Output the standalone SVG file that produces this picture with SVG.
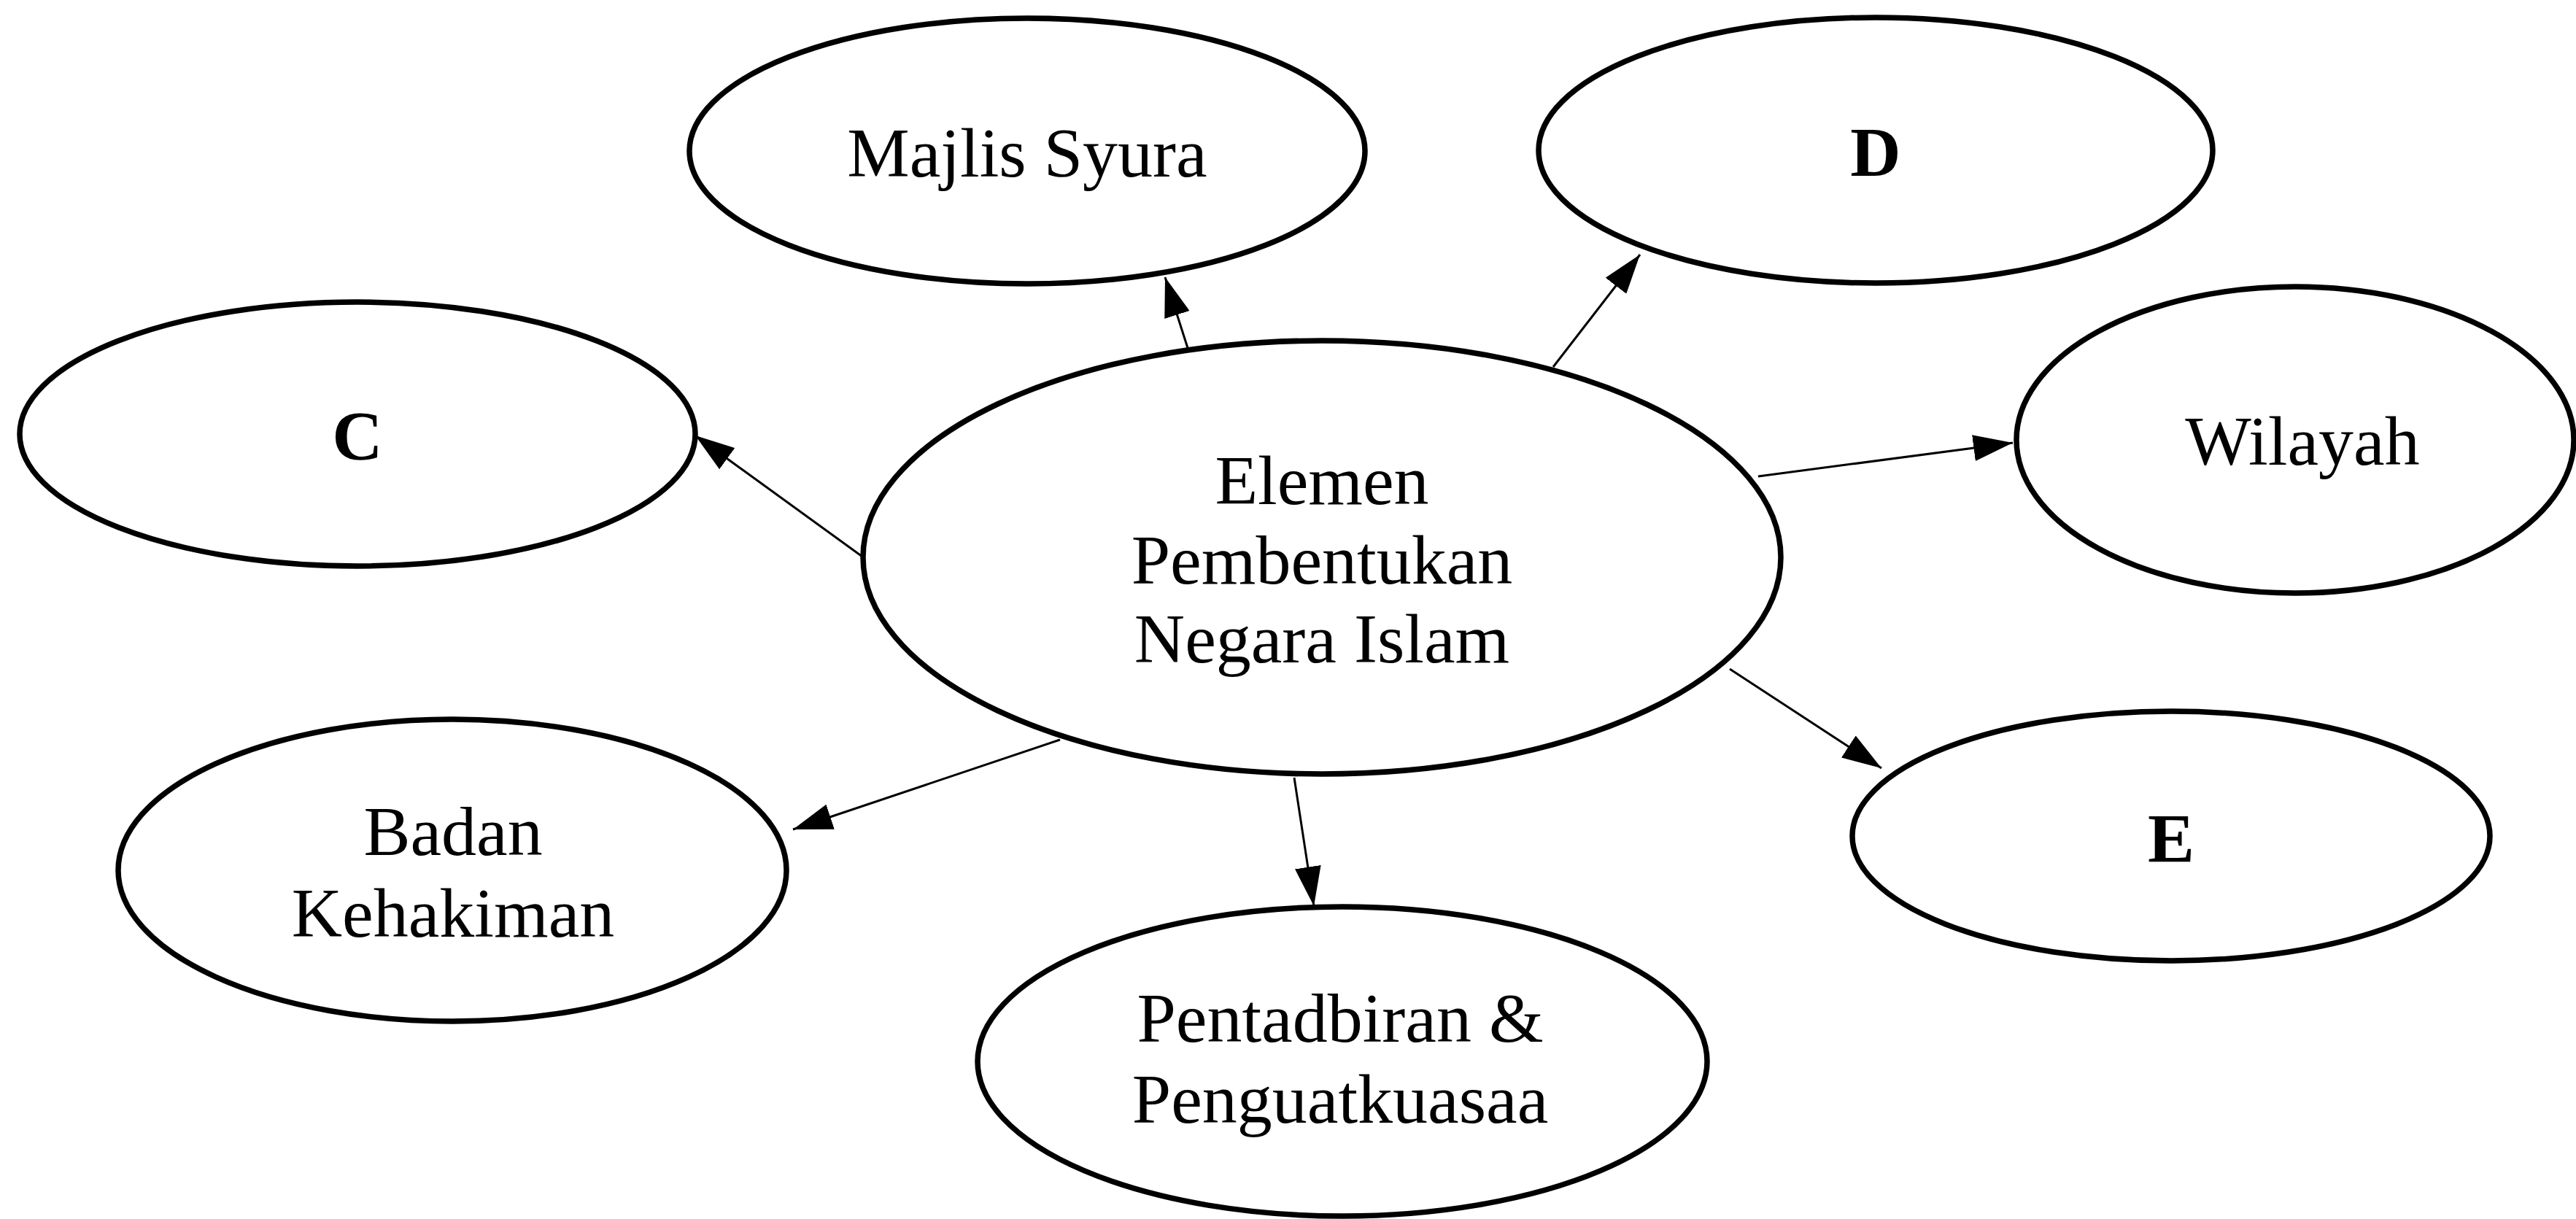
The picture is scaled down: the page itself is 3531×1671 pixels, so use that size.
<svg xmlns="http://www.w3.org/2000/svg" width="3531" height="1671" viewBox="0 0 3531 1671">
<style>
.node ellipse{fill:#fff;stroke:#000;stroke-width:7.5}
.node text{font-family:"Liberation Serif","Times New Roman",serif;font-size:96px;text-anchor:middle;fill:#000}
.node text.b{font-weight:bold}
.edges line{stroke:#000;stroke-width:3;marker-end:url(#arr)}
</style>
<defs>
<marker id="arr" markerUnits="userSpaceOnUse" markerWidth="54" markerHeight="36" refX="54" refY="18" orient="auto">
<path d="M0,0 L54,18 L0,36 Z" fill="#000"/>
</marker>
</defs>
<rect width="3531" height="1671" fill="#fff"/>
<g class="edges" id="connectors">
<line x1="1628" y1="477" x2="1597" y2="380"/>
<line x1="2129" y1="503" x2="2248" y2="349"/>
<line x1="1182" y1="763" x2="953" y2="597"/>
<line x1="2410" y1="653" x2="2759" y2="607"/>
<line x1="2371" y1="917" x2="2579" y2="1053"/>
<line x1="1774" y1="1066" x2="1801" y2="1242"/>
<line x1="1453" y1="1014" x2="1087" y2="1137"/>
</g>
<g class="node" id="center">
<ellipse cx="1812" cy="764" rx="629" ry="297"/>
<text x="1812" y="691">Elemen</text>
<text x="1812" y="800">Pembentukan</text>
<text x="1812" y="908">Negara Islam</text>
</g>
<g class="node" id="majlis">
<ellipse cx="1408" cy="207" rx="463" ry="182"/>
<text x="1408" y="242">Majlis Syura</text>
</g>
<g class="node" id="d">
<ellipse cx="2571" cy="206" rx="462" ry="182"/>
<text class="b" x="2571" y="241">D</text>
</g>
<g class="node" id="c">
<ellipse cx="490" cy="595" rx="463" ry="181"/>
<text class="b" x="490" y="630">C</text>
</g>
<g class="node" id="wilayah">
<ellipse cx="3146" cy="603" rx="382" ry="210"/>
<text x="3156" y="637">Wilayah</text>
</g>
<g class="node" id="e">
<ellipse cx="2976" cy="1146" rx="437" ry="171"/>
<text class="b" x="2976" y="1182">E</text>
</g>
<g class="node" id="badan">
<ellipse cx="620" cy="1193" rx="458" ry="207"/>
<text x="621" y="1172">Badan</text>
<text x="621" y="1284">Kehakiman</text>
</g>
<g class="node" id="pentadbiran">
<ellipse cx="1840" cy="1455" rx="500" ry="212"/>
<text x="1837" y="1428">Pentadbiran &amp;</text>
<text x="1837" y="1539">Penguatkuasaa</text>
</g>
</svg>
